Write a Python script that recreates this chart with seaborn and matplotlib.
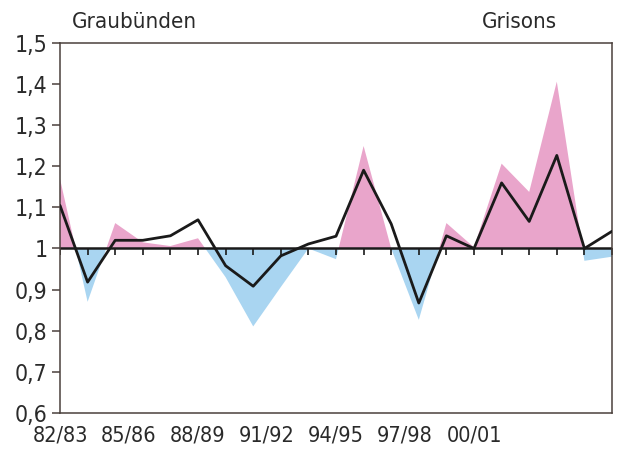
import numpy as np
import pandas as pd
import matplotlib
matplotlib.use("Agg")
import matplotlib.pyplot as plt
import seaborn as sns

seasons = ["82/83", "83/84", "84/85", "85/86", "86/87", "87/88", "88/89", "89/90",
           "90/91", "91/92", "92/93", "93/94", "94/95", "95/96", "96/97", "97/98",
           "98/99", "99/00", "00/01", "01/02", "02/03"]
grisons_index = [1.17, 0.87, 1.062, 1.015, 1.006, 1.025, 0.93, 0.81, 0.906, 1.0,
                 0.974, 1.25, 1.0, 0.826, 1.062, 1.003, 1.207, 1.138, 1.407, 0.97, 0.98]
graubuenden_index = [1.105, 0.918, 1.02, 1.02, 1.031, 1.07, 0.958, 0.908, 0.982, 1.011,
                     1.03, 1.191, 1.06, 0.867, 1.031, 1.0, 1.16, 1.066, 1.227, 1.0, 1.042]
tick_labels = ["82/83", "85/86", "88/89", "91/92", "94/95", "97/98", "00/01"]
y_ticks = [0.6, 0.7, 0.8, 0.9, 1.0, 1.1, 1.2, 1.3, 1.4, 1.5]

df = pd.DataFrame({"x": np.arange(len(seasons)), "season": seasons,
                   "fill": grisons_index, "line": graubuenden_index})

sns.set_theme(style="white")
plt.rcParams["font.family"] = ["DejaVu Sans"]
plt.rcParams["font.stretch"] = "condensed"

fig = plt.figure(figsize=(6.18, 4.54), dpi=100)
ax = fig.add_axes([0.0971, 0.0914, 0.8932, 0.8128])

pink = "#e9a5cb"
blue = "#a9d5f1"
ax.fill_between(df["x"], 1.0, df["fill"], where=df["fill"] >= 1.0, interpolate=True,
                color=pink, linewidth=0, zorder=1)
ax.fill_between(df["x"], 1.0, df["fill"], where=df["fill"] <= 1.0, interpolate=True,
                color=blue, linewidth=0, zorder=1)

ax.axhline(1.0, color="#1a1a1a", lw=1.8, zorder=2)
ax.plot(df["x"], np.ones(len(df)), linestyle="none", marker=3, ms=5, mew=1.2,
        color="#1a1a1a", zorder=2)

sns.lineplot(data=df, x="x", y="line", ax=ax, color="#1a1a1a", lw=2.0, zorder=3,
             estimator=None)

ax.set_xlim(0, len(seasons) - 1)
ax.set_ylim(0.6, 1.5)
ax.set_yticks(y_ticks)
ax.set_yticklabels([("1" if abs(v - 1) < 1e-9 else f"{v:.1f}".replace(".", ",")) for v in y_ticks])
tick_pos = np.arange(len(tick_labels)) * 2.5
ax.set_xticks(tick_pos)
ax.set_xticklabels(tick_labels)
ax.set_xlabel("")
ax.set_ylabel("")

frame_col = "#4a403c"
for s in ax.spines.values():
    s.set_visible(True)
    s.set_color(frame_col)
    s.set_linewidth(1.1)
ax.tick_params(axis="y", which="both", left=True, length=6, width=1.1, color=frame_col,
               labelsize=16.5, labelcolor="#2a2a2a", pad=3)
ax.tick_params(axis="x", which="both", bottom=False, length=0, labelsize=15.5,
               labelcolor="#2a2a2a", pad=9)

fig.text(72 / 618, 1 - 22 / 454, "Graubünden", fontsize=16, color="#2a2a2a",
         ha="left", va="center")
fig.text(557 / 618, 1 - 22 / 454, "Grisons", fontsize=16, color="#2a2a2a",
         ha="right", va="center")

fig.savefig("out.png", dpi=100, facecolor="white")
